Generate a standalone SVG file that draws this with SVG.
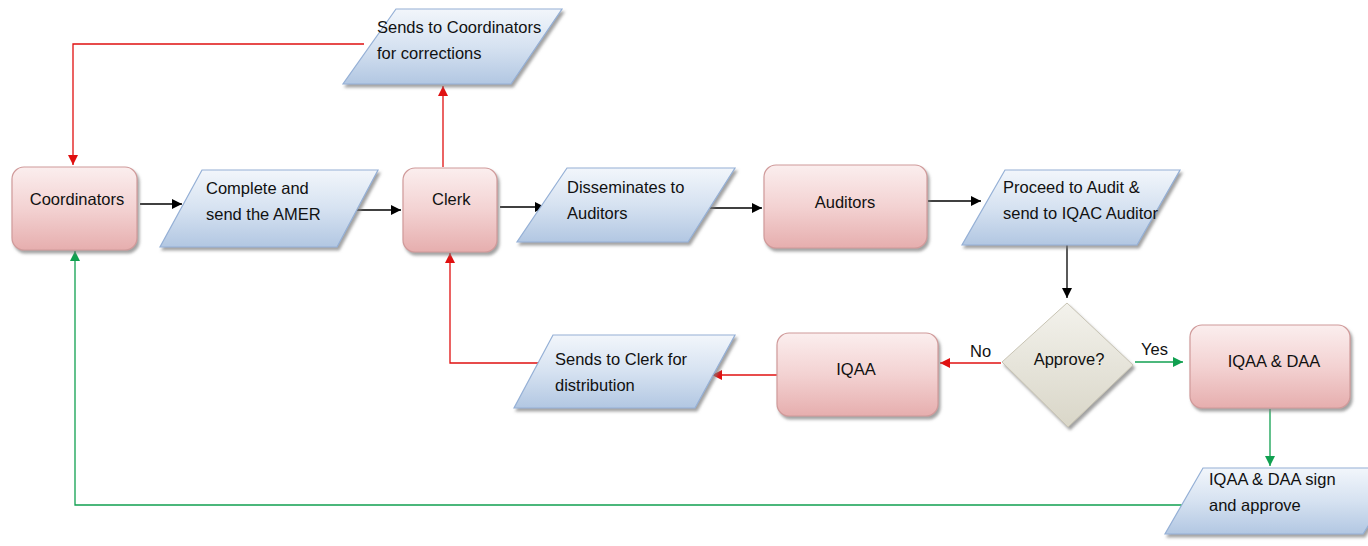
<svg xmlns="http://www.w3.org/2000/svg" width="1368" height="546" viewBox="0 0 1368 546">
<defs>
<linearGradient id="gPink" x1="0" y1="0" x2="0" y2="1">
<stop offset="0" stop-color="#fbeeee"/><stop offset="0.5" stop-color="#f3d2d2"/><stop offset="1" stop-color="#e6aeae"/>
</linearGradient>
<linearGradient id="gBlue" x1="0" y1="0" x2="0" y2="1">
<stop offset="0" stop-color="#f2f6fb"/><stop offset="0.5" stop-color="#d6e2f1"/><stop offset="1" stop-color="#b2c7e2"/>
</linearGradient>
<linearGradient id="gGray" x1="0" y1="0" x2="0" y2="1">
<stop offset="0" stop-color="#f3f2ec"/><stop offset="1" stop-color="#d9d6c8"/>
</linearGradient>
<filter id="sh" x="-10%" y="-10%" width="130%" height="130%">
<feDropShadow dx="2" dy="3" stdDeviation="1.5" flood-color="#7a7a7a" flood-opacity="0.7"/>
</filter>
<marker id="aK" viewBox="0 0 10 10" refX="10" refY="5" markerWidth="10" markerHeight="10" markerUnits="userSpaceOnUse" orient="auto"><path d="M0,0 L10,5 L0,10 z" fill="#000"/></marker>
<marker id="aR" viewBox="0 0 10 10" refX="10" refY="5" markerWidth="10" markerHeight="10" markerUnits="userSpaceOnUse" orient="auto"><path d="M0,0 L10,5 L0,10 z" fill="#e01010"/></marker>
<marker id="aG" viewBox="0 0 10 10" refX="10" refY="5" markerWidth="10" markerHeight="10" markerUnits="userSpaceOnUse" orient="auto"><path d="M0,0 L10,5 L0,10 z" fill="#10a050"/></marker>
</defs>
<style>
.proc{fill:url(#gPink);stroke:#d09a9a;stroke-width:1.2;filter:url(#sh)}
.io{fill:url(#gBlue);stroke:#95b0d6;stroke-width:1.2;filter:url(#sh)}
.dec{fill:url(#gGray);stroke:#c8c4b4;stroke-width:1;filter:url(#sh)}
text{font-family:"Liberation Sans",Arial,sans-serif;font-size:16.5px;fill:#111}
.c{text-anchor:middle}
.k{fill:none;stroke:#000;stroke-width:1.3;marker-end:url(#aK)}
.r{fill:none;stroke:#e01010;stroke-width:1.3;marker-end:url(#aR)}
.g{fill:none;stroke:#10a050;stroke-width:1.3;marker-end:url(#aG)}
</style>
<rect width="1368" height="546" fill="#fff"/>
<g id="connectors">
<path class="k" d="M140,204 L182,204"/>
<path class="k" d="M355,210 L401,210"/>
<path class="k" d="M500,207 L545,207"/>
<path class="k" d="M707,208 L762,208"/>
<path class="k" d="M928,201 L981,201"/>
<path class="k" d="M1067,245 L1067,298"/>
<path class="r" d="M443,167 L443,86"/>
<path class="r" d="M364,44 L73,44 L73,165"/>
<path class="r" d="M1001,363 L940,363"/>
<path class="r" d="M777,375 L712,375"/>
<path class="r" d="M546,363 L450,363 L450,253"/>
<path class="g" d="M1135,362 L1183,362"/>
<path class="g" d="M1270,409 L1270,466"/>
<path class="g" d="M1188,505 L75,505 L75,251"/>
<text x="970" y="357">No</text>
<text x="1141" y="355">Yes</text>
</g>
<g id="coordinators"><rect class="proc" x="12" y="167" width="125" height="83" rx="12"/><text class="c" x="77" y="205">Coordinators</text></g>
<g id="complete"><path class="io" d="M202,170 L378,170 L337,247 L160,247 Z"/><text x="206" y="194">Complete and</text><text x="206" y="220">send the AMER</text></g>
<g id="clerk"><rect class="proc" x="403" y="168" width="94" height="84" rx="12"/><text x="432" y="205">Clerk</text></g>
<g id="sendsCoord"><path class="io" d="M396,9 L562,9 L511,84 L343,84 Z"/><text x="377" y="33">Sends to Coordinators</text><text x="377" y="59">for corrections</text></g>
<g id="disseminates"><path class="io" d="M567,168 L735,168 L688,242 L517,242 Z"/><text x="567" y="193">Disseminates to</text><text x="567" y="219">Auditors</text></g>
<g id="auditors"><rect class="proc" x="764" y="165" width="163" height="83" rx="12"/><text class="c" x="845" y="208">Auditors</text></g>
<g id="proceed"><path class="io" d="M1005,170 L1180,170 L1137,245 L962,245 Z"/><text x="1003" y="193">Proceed to Audit  &amp;</text><text x="1003" y="219">send to IQAC Auditor</text></g>
<g id="approve"><path class="dec" d="M1067,303 L1133,365 L1068,427 L1002,362 Z"/><text class="c" x="1069" y="365">Approve?</text></g>
<g id="iqaaDaa"><rect class="proc" x="1190" y="325" width="160" height="83" rx="12"/><text class="c" x="1274" y="367">IQAA &amp; DAA</text></g>
<g id="signApprove"><path class="io" d="M1203,468 L1405,468 L1363,534 L1165,534 Z"/><text x="1209" y="485">IQAA &amp; DAA sign</text><text x="1209" y="511">and approve</text></g>
<g id="iqaa"><rect class="proc" x="777" y="333" width="161" height="83" rx="12"/><text class="c" x="856" y="375">IQAA</text></g>
<g id="sendsClerk"><path class="io" d="M553,335 L735,335 L695,408 L514,408 Z"/><text x="555" y="365">Sends to Clerk for</text><text x="555" y="391">distribution</text></g>
</svg>
